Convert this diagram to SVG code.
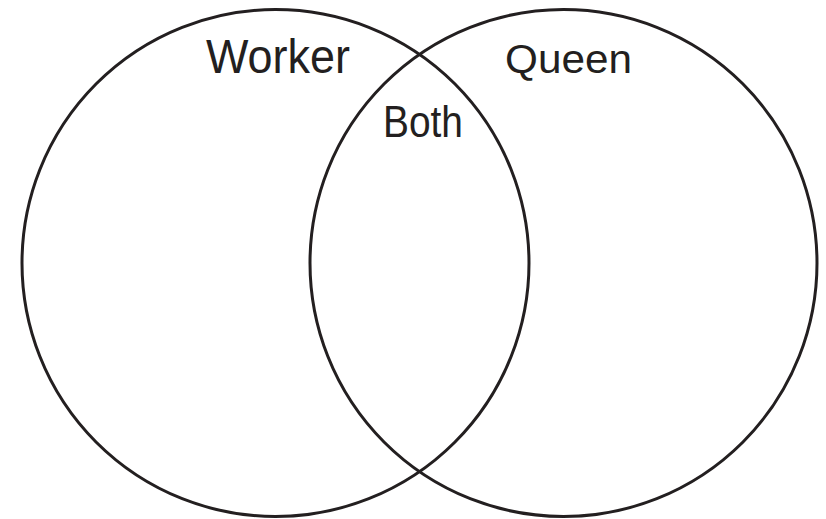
<svg xmlns="http://www.w3.org/2000/svg" width="826" height="519" viewBox="0 0 826 519">
<style>
.c{fill:none;stroke:#231f20;stroke-width:3}
.t{font-family:"Liberation Sans",Arial,sans-serif;fill:#231f20}
</style>
<rect width="826" height="519" fill="#fff"/>
<g id="worker">
<circle class="c" cx="275.5" cy="263" r="253.5"/>
<text class="t" x="206" y="73" font-size="48" textLength="144" lengthAdjust="spacingAndGlyphs">Worker</text>
</g>
<g id="queen">
<circle class="c" cx="563.5" cy="263" r="253.5"/>
<text class="t" x="505" y="73" font-size="41" textLength="127" lengthAdjust="spacingAndGlyphs">Queen</text>
</g>
<g id="both">
<text class="t" x="383" y="137" font-size="44" textLength="80" lengthAdjust="spacingAndGlyphs">Both</text>
</g>
</svg>
